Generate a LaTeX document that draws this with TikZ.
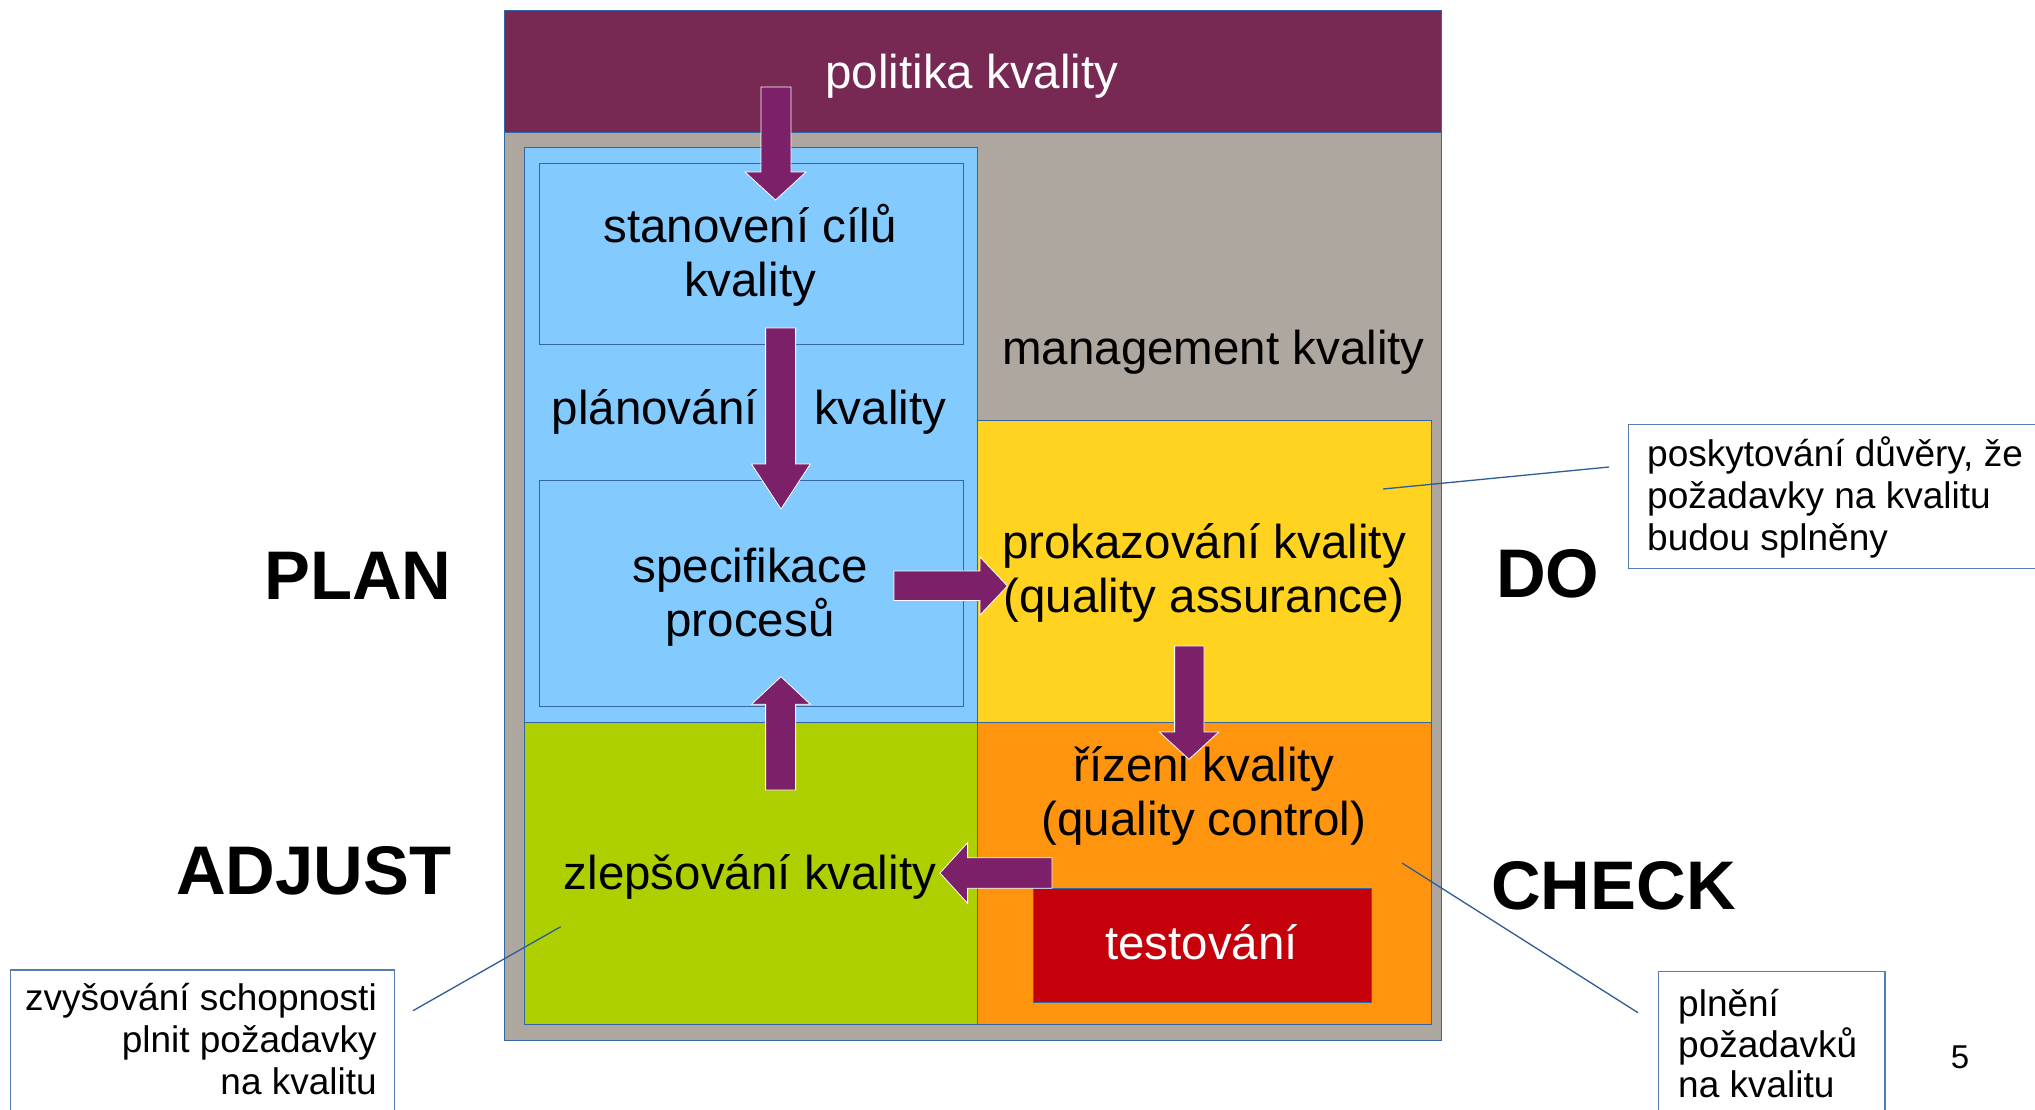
\documentclass[tikz,border=0pt]{standalone}
\usepackage{fontspec}
\setmainfont{Liberation Sans}
\definecolor{aubergine}{HTML}{772953}
\definecolor{warmgrey}{HTML}{AEA79F}
\definecolor{lblue}{HTML}{83CAFF}
\definecolor{lyellow}{HTML}{FFD320}
\definecolor{lgreen}{HTML}{AECF00}
\definecolor{lorange}{HTML}{FF950E}
\definecolor{lred}{HTML}{C5000B}
\definecolor{arrowpurple}{HTML}{7B2069}
\definecolor{lineblue}{HTML}{3465A4}
\definecolor{connblue}{HTML}{2E5C94}
\begin{document}
\begin{tikzpicture}[x=1pt,y=-1pt,
  box/.style={draw=lineblue,line width=1.2pt,inner sep=0pt,anchor=north west},
  callout/.style={draw=lineblue!85,line width=1.2pt,fill=white,inner sep=0pt,anchor=north west},
  maintext/.style={font=\fontsize{47.5}{53}\selectfont,anchor=base,inner sep=0pt},
  phase/.style={font=\fontsize{68.8}{72}\selectfont\bfseries,inner sep=0pt},
  notetext/.style={font=\fontsize{37}{42}\selectfont,inner sep=0pt},
  blockarrow/.style={fill=arrowpurple,draw=white,line width=0.8pt},
  conn/.style={draw=connblue,line width=1.3pt}]
\useasboundingbox (0,0) rectangle (2035,1109);
\clip (0,0) rectangle (2035,1109);
\fill[white] (0,0) rectangle (2035,1109);
% boxes
\node[box,fill=warmgrey,minimum width=937.5pt,minimum height=1029.5pt] (outer) at (503.5,10) {};
\node[box,fill=aubergine,minimum width=937.5pt,minimum height=122pt] (header) at (503.5,10) {};
\node[box,fill=lblue,minimum width=453.5pt,minimum height=575pt] (planarea) at (523.5,146.5) {};
\node[box,fill=lblue,minimum width=424.5pt,minimum height=181pt] (stan) at (538.5,162.5) {};
\node[box,fill=lblue,minimum width=424pt,minimum height=226.5pt] (spec) at (539,479.5) {};
\node[box,fill=lyellow,minimum width=453.5pt,minimum height=302pt] (prok) at (977,419.5) {};
\node[box,fill=lgreen,minimum width=453.5pt,minimum height=302pt] (zlep) at (523.5,721.5) {};
\node[box,fill=lorange,minimum width=453.5pt,minimum height=302pt] (riz) at (977,721.5) {};
\node[box,fill=lred,minimum width=338pt,minimum height=114pt] (test) at (1032.5,887.5) {};
% texts
\node[maintext,text=white] (tpol) at (972,88) {politika kvality};
\node[maintext] (tstan1) at (750,242) {stanovení cílů};
\node[maintext] (tstan2) at (750,296) {kvality};
\node[maintext,anchor=base east] (tplan1) at (758,424) {plánování};
\node[maintext,anchor=base west] (tplan2) at (814,424) {kvality};
\node[maintext] (tspec1) at (750,582.5) {specifikace};
\node[maintext] (tspec2) at (750,636) {procesů};
\node[maintext] (tman) at (1213.5,364) {management kvality};
\node[maintext] (tprok1) at (1204,558) {prokazování kvality};
\node[maintext] (tprok2) at (1204,612) {(quality assurance)};
\node[maintext] (triz1) at (1204,781) {řízeni kvality};
\node[maintext] (triz2) at (1204,835) {(quality control)};
\node[maintext] (tzlep) at (750,889) {zlepšování kvality};
\node[maintext,text=white] (ttest) at (1201.6,959) {testování};
% phase labels
\node[phase,anchor=base east] (plan) at (451.6,599) {PLAN};
\node[phase,anchor=base east] (adjust) at (451.6,894) {ADJUST};
\node[phase,anchor=base west] (do) at (1496,597) {DO};
\node[phase,anchor=base west] (check) at (1491,909) {CHECK};
% block arrows
\path[blockarrow] (761,87)--(791,87)--(791,172)--(806,172)--(775.5,200)--(745,172)--(761,172)--cycle;
\path[blockarrow] (765.6,328)--(795.6,328)--(795.6,464)--(810.3,464)--(781,509)--(751.5,464)--(765.6,464)--cycle;
\path[blockarrow] (894,571)--(980,571)--(980,557)--(1007.4,586)--(980,615)--(980,600.5)--(894,600.5)--cycle;
\path[blockarrow] (1174.6,646)--(1204,646)--(1204,732)--(1218.7,732)--(1189,759.3)--(1159.3,732)--(1174.6,732)--cycle;
\path[blockarrow] (765.6,790)--(795.6,790)--(795.6,704.3)--(810.3,704.3)--(781,676.7)--(751.5,704.3)--(765.6,704.3)--cycle;
\path[blockarrow] (1052,857.7)--(967.6,857.7)--(967.6,842.7)--(940,873)--(967.6,903.3)--(967.6,888.3)--(1052,888.3)--cycle;
% callouts
\node[callout,minimum width=450pt,minimum height=143.5pt] (c1) at (1628,424) {};
\node[callout,minimum width=384.4pt,minimum height=200pt] (c2) at (9.6,969.3) {};
\node[callout,minimum width=226.8pt,minimum height=200pt] (c3) at (1657.6,970.7) {};
\node[notetext,anchor=base west] (c1a) at (1647,466.5) {poskytování důvěry, že};
\node[notetext,anchor=base west] (c1b) at (1647,508.5) {požadavky na kvalitu};
\node[notetext,anchor=base west] (c1c) at (1647,550) {budou splněny};
\node[notetext,anchor=base east] (c2a) at (377,1010.5) {zvyšování schopnosti};
\node[notetext,anchor=base east] (c2b) at (377,1052) {plnit požadavky};
\node[notetext,anchor=base east] (c2c) at (377,1094) {na kvalitu};
\node[notetext,anchor=base west] (c3a) at (1678,1016) {plnění};
\node[notetext,anchor=base west] (c3b) at (1678,1057) {požadavků};
\node[notetext,anchor=base west] (c3c) at (1678,1097) {na kvalitu};
\node[font=\fontsize{33}{38}\selectfont,anchor=base,inner sep=0pt] (pagenum) at (1960,1068) {5};
% connectors
\coordinate (p1a) at (1383,489);
\coordinate (p1b) at (1609,467);
\coordinate (p2a) at (560.7,926.7);
\coordinate (p2b) at (413,1010.7);
\coordinate (p3a) at (1402,863);
\coordinate (p3b) at (1638,1012.7);
\draw[conn] (p1a) -- (p1b);
\draw[conn] (p2a) -- (p2b);
\draw[conn] (p3a) -- (p3b);
\end{tikzpicture}
\end{document}
